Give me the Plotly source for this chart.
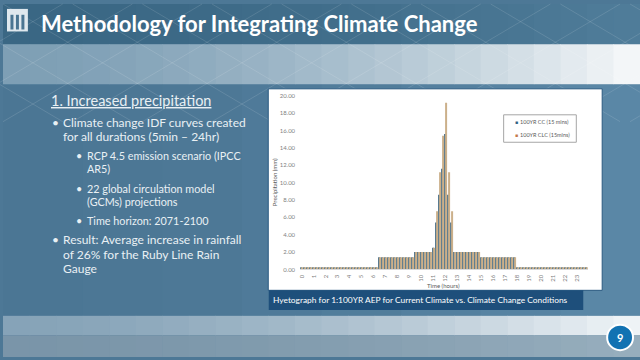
import plotly.graph_objects as go

# ---------------- data ----------------
hour_labels = ["0", "1", "2", "3", "4", "5", "6", "7", "8", "9", "10", "11",
               "12", "13", "14", "15", "16", "17", "18", "19", "20", "21", "22", "23"]
hour_ticks = [0, 1, 2, 3, 4, 5, 6, 7, 8, 9, 10, 11, 12, 13, 14, 15, 16, 17, 18, 19, 20, 21, 22, 23]
time_steps = [i * 0.25 for i in range(96)]  # 15-minute steps (hours)

cc_15min = [
    0.25, 0.25, 0.25, 0.25, 0.25, 0.25, 0.25, 0.25, 0.25, 0.25, 0.25, 0.25, 0.25,
    0.25, 0.25, 0.25, 0.25, 0.25, 0.25, 0.25, 0.25, 0.25, 0.25, 0.25, 0.25, 0.25,
    1.40, 1.40, 1.40, 1.40, 1.40, 1.40, 1.40, 1.40, 1.40, 1.40, 1.40, 1.40,
    2.00, 2.00, 2.00, 2.00, 2.00, 2.00,
    2.50, 5.40, 8.60, 11.60, 15.60, 8.60, 5.40,
    2.00, 2.00, 2.00, 2.00, 2.00, 2.00, 2.00, 2.00, 2.00,
    1.40, 1.40, 1.40, 1.40, 1.40, 1.40, 1.40, 1.40, 1.40, 1.40, 1.40, 1.40,
    0.25, 0.25, 0.25, 0.25, 0.25, 0.25, 0.25, 0.25, 0.25, 0.25, 0.25, 0.25,
    0.25, 0.25, 0.25, 0.25, 0.25, 0.25, 0.25, 0.25, 0.25, 0.25, 0.25, 0.25,
]
clc_15min = [
    0.25, 0.25, 0.25, 0.25, 0.25, 0.25, 0.25, 0.25, 0.25, 0.25, 0.25, 0.25, 0.25,
    0.25, 0.25, 0.25, 0.25, 0.25, 0.25, 0.25, 0.25, 0.25, 0.25, 0.25, 0.25, 0.25,
    1.40, 1.40, 1.40, 1.40, 1.40, 1.40, 1.40, 1.40, 1.40, 1.40, 1.40, 1.40,
    2.00, 2.00, 2.00, 2.00, 2.00, 2.00,
    2.50, 6.70, 11.20, 15.40, 19.20, 11.20, 6.70,
    2.00, 2.00, 2.00, 2.00, 2.00, 2.00, 2.00, 2.00, 2.00,
    1.40, 1.40, 1.40, 1.40, 1.40, 1.40, 1.40, 1.40, 1.40, 1.40, 1.40, 1.40,
    0.25, 0.25, 0.25, 0.25, 0.25, 0.25, 0.25, 0.25, 0.25, 0.25, 0.25, 0.25,
    0.25, 0.25, 0.25, 0.25, 0.25, 0.25, 0.25, 0.25, 0.25, 0.25, 0.25, 0.25,
]
series_names = ["100YR CC (15 mins)", "100YR CLC (15mins)"]
series_colors = ["#466c84", "#cbb08a"]
legend_colors = ["#2f6283", "#c4794b"]

title_text = "Methodology for Integrating Climate Change"
caption_text = "Hyetograph for 1:100YR AEP for Current Climate vs. Climate Change Conditions"

W, H = 640, 360
FONT = "Lato, Open Sans, sans-serif"


def px(x):
    return x / W


def py(y):
    return 1 - y / H


def mix(c1, c2, t):
    a = [int(c1[i:i + 2], 16) for i in (1, 3, 5)]
    b = [int(c2[i:i + 2], 16) for i in (1, 3, 5)]
    return "#%02x%02x%02x" % tuple(round(a[k] + (b[k] - a[k]) * t) for k in range(3))


shapes = []


def rect(x0, y0, x1, y1, fill, line=None, lw=0, layer="below"):
    shapes.append(dict(type="rect", xref="paper", yref="paper",
                       x0=px(x0), x1=px(x1), y0=py(y1), y1=py(y0),
                       fillcolor=fill, line=dict(color=line or fill, width=lw),
                       layer=layer))


def hgrad(x0, y0, x1, y1, c1, c2, n=24, p=1.6):
    step = (x1 - x0) / n
    for i in range(n):
        rect(x0 + i * step, y0, x0 + (i + 1) * step + 0.6, y1, mix(c1, c2, (i / (n - 1)) ** p))


# background regions
hgrad(0, 0, 640, 41, "#3a6784", "#4f7c99")
hgrad(0, 41, 640, 82, "#7e9fb5", "#f3f6f8")
hgrad(0, 82, 640, 318, "#4b7694", "#5a87a6", n=8)
hgrad(0, 318, 640, 338, "#86a3b8", "#eef3f6")
hgrad(0, 338, 640, 360, "#7a95a9", "#97aebd")

# faint diagonal lattice lines
for k in range(-4, 10):
    x0 = k * 70
    shapes.append(dict(type="line", xref="paper", yref="paper",
                       x0=px(x0), y0=py(0), x1=px(x0 + 200), y1=py(120),
                       line=dict(color="rgba(255,255,255,0.12)", width=1), layer="below"))
    shapes.append(dict(type="line", xref="paper", yref="paper",
                       x0=px(x0 + 200), y0=py(0), x1=px(x0), y1=py(120),
                       line=dict(color="rgba(255,255,255,0.12)", width=1), layer="below"))

# logo
rect(4, 5, 25, 28, "#dfe8ee")
for lx in (7.5, 13, 18.5):
    rect(lx, 11, lx + 3, 26, "#4a7592")

# chart panel + caption bar
rect(266.5, 86.5, 602, 292, "#ffffff", line="#2a5a80", lw=1)
rect(267, 292, 583, 312, "#1e4f7b")

# legend box
rect(503, 113, 576, 141, "#ffffff", line="#a6a6a6", lw=1, layer="above")

# page number circle
shapes.append(dict(type="circle", xref="paper", yref="paper",
                   x0=px(607), x1=px(633), y0=py(353), y1=py(327),
                   fillcolor="#1272b2", line=dict(color="#ffffff", width=2), layer="above"))

fig = go.Figure()
for name, vals, col in zip(series_names, [cc_15min, clc_15min], series_colors):
    fig.add_trace(go.Bar(x=time_steps, y=vals, name=name, showlegend=False,
                         marker=dict(color=col, line=dict(width=0))))

ann = []


def text(x, y, s, size, color="#e9f0f4", family=FONT, xanchor="left", yanchor="middle", **kw):
    ann.append(dict(x=px(x), y=py(y), xref="paper", yref="paper", text=s, showarrow=False,
                    xanchor=xanchor, yanchor=yanchor, borderpad=0,
                    font=dict(size=size, color=color, family=family), **kw))


# legend entries
for i, (name, col) in enumerate(zip(series_names, legend_colors)):
    yy = 120.5 + i * 13
    text(513, yy, "■", 5, color=col)
    text(518.5, yy, name, 5.5, color="#595959")

text(37, 20, "<b>" + title_text + "</b>", 22, color="#ffffff")
text(47, 98, "<u>1. Increased precipitation</u>", 14.5)
body = 12.0
sub = 10.8
text(48, 121, "•", body)
text(59, 121, "Climate change IDF curves created", body)
text(59, 135, "for all durations (5min – 24hr)", body)
text(72, 155, "•", sub)
text(83, 155, "RCP 4.5 emission scenario (IPCC", sub)
text(83, 168, "AR5)", sub)
text(72, 188, "•", sub)
text(83, 188, "22 global circulation model", sub)
text(83, 201, "(GCMs) projections", sub)
text(72, 221, "•", sub)
text(83, 221, "Time horizon: 2071-2100", sub)
text(48, 240.5, "•", body)
text(59, 240.5, "Result: Average increase in rainfall", body)
text(59, 255, "of 26% for the Ruby Line Rain", body)
text(59, 270, "Gauge", body)

text(270, 302, caption_text, 8.4, color="#ffffff")
text(620, 340, "<b>9</b>", 11, color="#ffffff", xanchor="center")

# axis titles
text(273, 182, "Precipitation (mm)", 6, color="#595959", xanchor="center", textangle=-90)
text(443, 287, "Time (hours)", 6, color="#595959", xanchor="center")

fig.update_layout(
    width=W, height=H, autosize=False,
    margin=dict(l=0, r=0, t=0, b=0),
    paper_bgcolor="#4d7896", plot_bgcolor="rgba(0,0,0,0)",
    barmode="group", bargap=0.33, bargroupgap=0.0,
    shapes=shapes, annotations=ann,
    xaxis=dict(domain=[px(298.5), px(587.5)], range=[-0.125, 23.875],
               tickmode="array", tickvals=hour_ticks, ticktext=hour_labels,
               tickangle=-90, tickfont=dict(size=6, color="#7f7f7f", family=FONT),
               showgrid=False, zeroline=False, showline=True, linecolor="#d9d9d9",
               ticks="", ticklabelstandoff=2),
    yaxis=dict(domain=[py(270.7), py(93.7)], range=[0, 20], dtick=2, tickformat=".2f",
               tickfont=dict(size=6, color="#7f7f7f", family=FONT),
               showgrid=False, zeroline=False, showline=False, ticks="",
               ticklabelstandoff=4),
    showlegend=False,
)

fig.write_html("out.html", config={"displayModeBar": False},
               post_script="document.body.style.margin='0';document.body.style.overflow='hidden';")
